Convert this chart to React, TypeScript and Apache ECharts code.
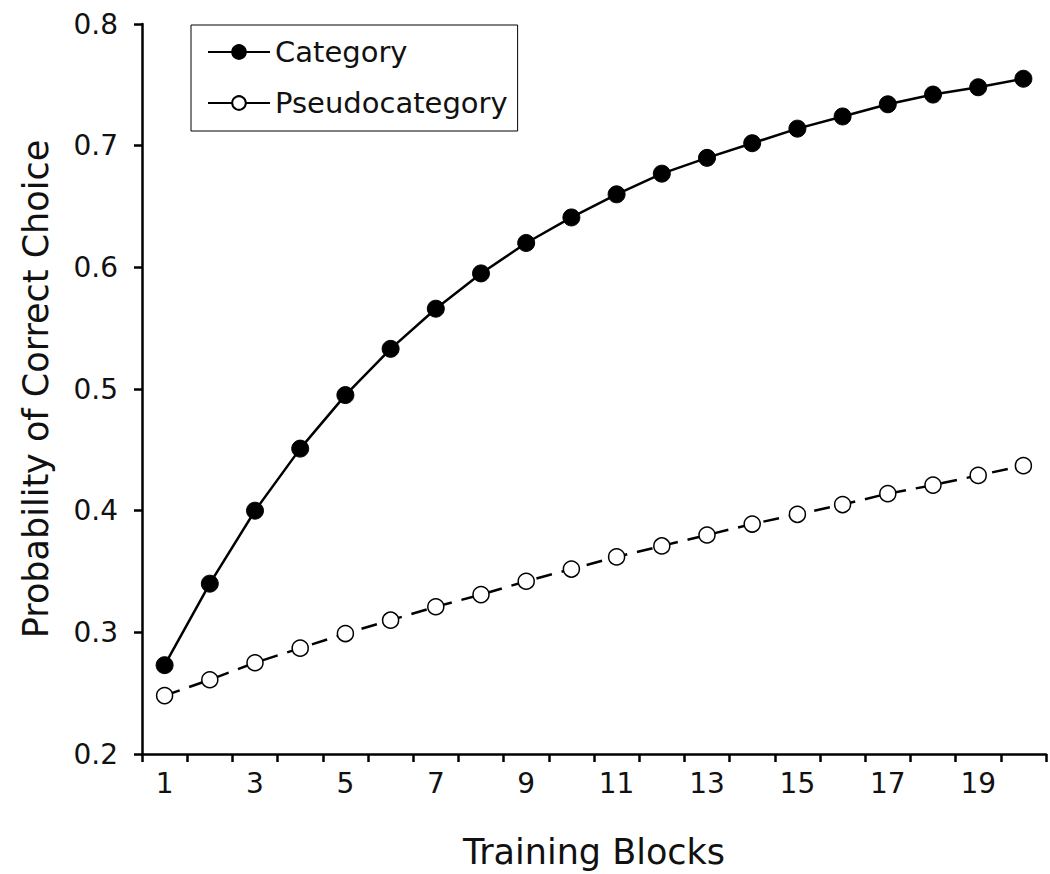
import React, { useEffect, useRef } from "react";
import * as echarts from "echarts";

const blocks = Array.from({ length: 20 }, (_, i) => String(i + 1));
const categoryValues = [
  0.273, 0.34, 0.4, 0.451, 0.495, 0.533, 0.566, 0.595, 0.62, 0.641,
  0.66, 0.677, 0.69, 0.702, 0.714, 0.724, 0.734, 0.742, 0.748, 0.755,
];
const pseudoValues = [
  0.248, 0.261, 0.275, 0.287, 0.299, 0.31, 0.321, 0.331, 0.342, 0.352,
  0.362, 0.371, 0.38, 0.389, 0.397, 0.405, 0.414, 0.421, 0.429, 0.437,
];

const FONT = "DejaVu Sans";

export default function App() {
  const ref = useRef<HTMLDivElement>(null);
  useEffect(() => {
    const chart = echarts.init(ref.current!, null, { renderer: "svg" });
    chart.setOption({
      animation: false,
      backgroundColor: "#fff",
      textStyle: { fontFamily: FONT },
      grid: { left: 142, right: 4, top: 24, bottom: 120, containLabel: false },
      legend: {
        orient: "vertical",
        left: 191,
        top: 25,
        padding: [12, 10, 13, 16],
        borderColor: "#000",
        borderWidth: 1,
        itemWidth: 62,
        itemHeight: 17,
        itemGap: 21,
        textStyle: { fontSize: 29, color: "#111", fontFamily: FONT, lineHeight: 30 },
        data: [
          { name: "Category" },
          { name: "Pseudocategory", lineStyle: { type: "solid" } },
        ],
      },
      xAxis: {
        type: "category",
        data: blocks,
        boundaryGap: true,
        name: "Training Blocks",
        nameLocation: "middle",
        nameGap: 80,
        nameTextStyle: { fontSize: 35, color: "#111", fontFamily: FONT },
        axisLine: { lineStyle: { color: "#000", width: 2.5 } },
        axisTick: { show: true, length: 8, lineStyle: { color: "#000", width: 2.5 }, alignWithLabel: false, interval: 0 },
        axisLabel: { interval: 1, fontSize: 28, color: "#111", margin: 15, fontFamily: FONT },
        splitLine: { show: false },
      },
      yAxis: {
        type: "value",
        min: 0.2,
        max: 0.8,
        interval: 0.1,
        name: "Probability of Correct Choice",
        nameLocation: "middle",
        nameGap: 89,
        nameTextStyle: { fontSize: 35, color: "#111", fontFamily: FONT },
        axisLine: { show: true, lineStyle: { color: "#000", width: 2.5 } },
        axisTick: { show: true, length: 8, lineStyle: { color: "#000", width: 2.5 } },
        axisLabel: { fontSize: 28, color: "#111", margin: 24, fontFamily: FONT, formatter: (v: number) => v.toFixed(1) },
        splitLine: { show: false },
      },
      series: [
        {
          name: "Category",
          type: "line",
          data: categoryValues,
          symbol: "circle",
          symbolSize: 17,
          lineStyle: { color: "#000", width: 2.5 },
          itemStyle: { color: "#000", borderColor: "#000", borderWidth: 1 },
        },
        {
          name: "Pseudocategory",
          type: "line",
          data: pseudoValues,
          symbol: "circle",
          symbolSize: 16,
          lineStyle: { color: "#000", width: 2.5, type: [16, 10] },
          itemStyle: { color: "#fff", borderColor: "#000", borderWidth: 1.5 },
        },
      ],
    });
    return () => chart.dispose();
  }, []);
  return (
    <div
      ref={ref}
      style={{ position: "fixed", left: 0, top: 0, width: 1050, height: 874 }}
    />
  );
}
